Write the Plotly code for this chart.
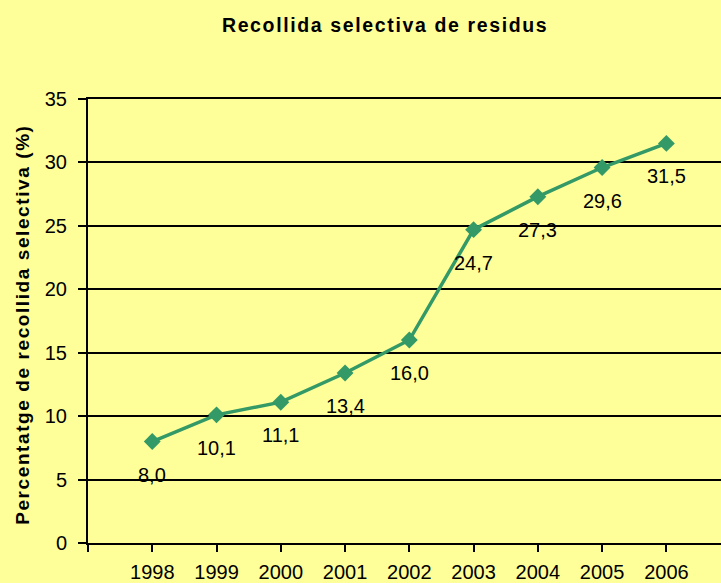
import plotly.graph_objects as go

# Data
years = ['1998', '1999', '2000', '2001', '2002', '2003', '2004', '2005', '2006']
pct = [8.0, 10.1, 11.1, 13.4, 16.0, 24.7, 27.3, 29.6, 31.5]
labels = [f"{v:.1f}".replace('.', ',') for v in pct]

title_text = 'Recollida selectiva de residus'
ytitle_text = 'Percentatge de recollida selectiva (%)'

bg = '#FFFF99'
green = '#339966'
FONT = 'Arial, Liberation Sans, sans-serif'


def spaced(s):
    # Excel draws bold titles with a little extra tracking
    return '\u200a'.join(s)


fig = go.Figure()

fig.add_trace(go.Scatter(
    x=list(range(len(years))),
    y=pct,
    mode='lines+markers',
    line=dict(color=green, width=3.5),
    marker=dict(symbol='diamond', size=13, color=green),
    showlegend=False,
    hoverinfo='skip'
))

# Data labels below each point
for i, (v, t) in enumerate(zip(pct, labels)):
    fig.add_annotation(
        x=i, y=v, text=t, showarrow=False,
        yshift=-33,
        font=dict(family=FONT, size=20, color='black')
    )

# y axis title as an annotation so it sits where the original does
fig.add_annotation(
    xref='paper', yref='paper', x=-0.103, y=0.491,
    text='<b>' + spaced(ytitle_text) + '</b>', textangle=-90,
    showarrow=False, xanchor='center', yanchor='middle',
    font=dict(family=FONT, size=19, color='black')
)

fig.update_layout(
    width=721, height=583,
    margin=dict(l=88, r=0, t=99, b=40),
    paper_bgcolor=bg,
    plot_bgcolor=bg,
    font=dict(family=FONT, size=20, color='black'),
    title=dict(
        text='<b>' + spaced(title_text) + '</b>',
        x=0.533, xanchor='center', y=0.957, yanchor='middle',
        font=dict(size=19.5)
    ),
)

fig.update_xaxes(
    range=[-1, 8.85],
    tickvals=list(range(-1, len(years))),
    ticktext=[''] + years,
    ticks='outside', ticklen=7, tickwidth=2, tickcolor='black',
    ticklabelstandoff=3,
    showline=True, linecolor='black', linewidth=2, mirror=True,
    showgrid=False, zeroline=False, automargin=False,
)

fig.update_yaxes(
    range=[0, 35],
    tickvals=[0, 5, 10, 15, 20, 25, 30, 35],
    ticks='outside', ticklen=8, tickwidth=2, tickcolor='black',
    ticklabelstandoff=7,
    showline=True, linecolor='black', linewidth=2,
    showgrid=True, gridcolor='black', gridwidth=2,
    zeroline=False, automargin=False,
)

fig.write_html("out.html", config={'displayModeBar': False},
               post_script="document.body.style.margin='0';")
